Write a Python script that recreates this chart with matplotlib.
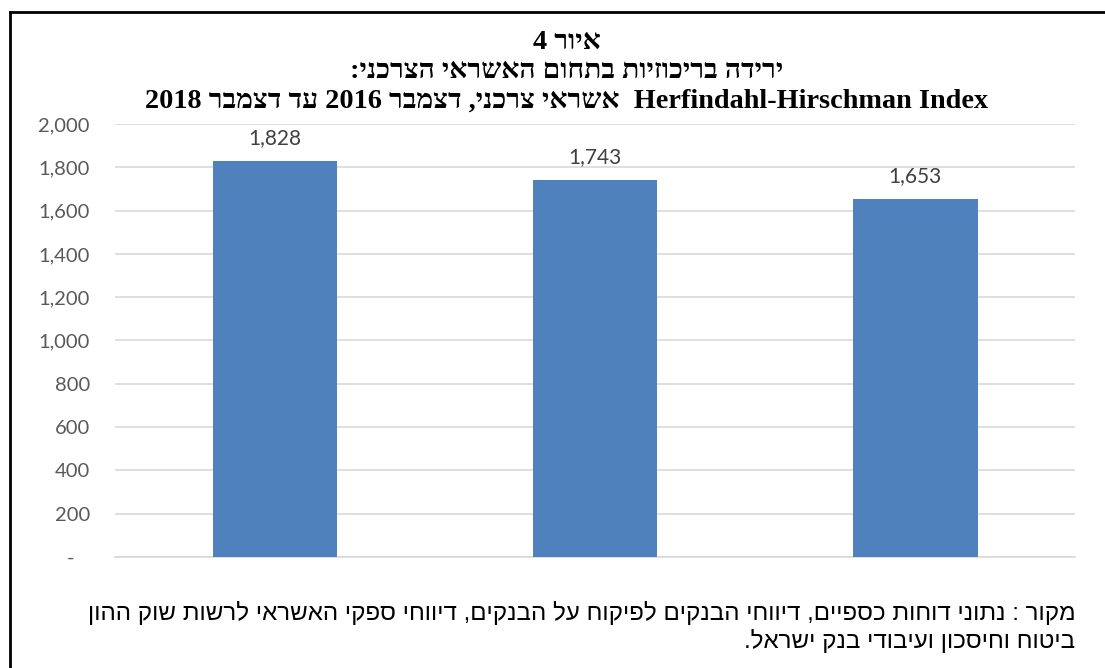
import re
import matplotlib
matplotlib.use('Agg')
import matplotlib.pyplot as plt
from matplotlib.lines import Line2D

# Data
categories = ['Dec 2016', 'Dec 2017', 'Dec 2018']
hhi_values = [1828, 1743, 1653]
y_ticks = [0, 200, 400, 600, 800, 1000, 1200, 1400, 1600, 1800, 2000]

title_lines = [
    'איור 4',
    'ירידה בריכוזיות בתחום האשראי הצרכני:',
    'Herfindahl-Hirschman Index  אשראי צרכני, דצמבר 2016 עד דצמבר 2018',
]
source_lines = [
    'מקור : נתוני דוחות כספיים, דיווחי הבנקים לפיקוח על הבנקים, דיווחי ספקי האשראי לרשות שוק ההון',
    'ביטוח וחיסכון ועיבודי בנק ישראל.',
]


def visual(text):
    # naive RTL reordering: keep latin/digit runs, reverse the rest
    parts = re.split(r'([A-Za-z0-9][A-Za-z0-9\- ]*[A-Za-z0-9]|[A-Za-z0-9])', text)
    out = []
    for p in reversed(parts):
        if re.match(r'[A-Za-z0-9]', p or ' '):
            out.append(p)
        else:
            out.append(p[::-1])
    return ''.join(out)


def main():
    fig = plt.figure(figsize=(11.05, 6.68), dpi=100)
    ax = fig.add_axes([0.104, 0.1662, 0.869, 0.6482])

    x = range(len(categories))
    bars = ax.bar(x, hhi_values, width=0.39, color='#4f81bd', zorder=3)

    for b, v in zip(bars, hhi_values):
        ax.text(b.get_x() + b.get_width() / 2, v + 60, f'{v:,}', ha='center', va='bottom',
                fontsize=15, color='#404040', family=['Lato', 'DejaVu Sans'])

    ax.set_xlim(-0.5, len(categories) - 0.5)
    ax.set_ylim(0, 2000)
    ax.set_yticks(y_ticks)
    ax.set_yticklabels(['-   '] + [f'{t:,}' for t in y_ticks[1:]],
                       fontsize=14.5, color='#595959', family=['Lato', 'DejaVu Sans'])
    ax.set_xticks([])
    ax.grid(axis='y', color='#d9d9d9', linewidth=1.2, zorder=0)
    for s in ['top', 'right', 'left']:
        ax.spines[s].set_visible(False)
    ax.spines['bottom'].set_color('#d9d9d9')
    ax.spines['bottom'].set_linewidth(1.2)
    ax.tick_params(axis='y', length=0, pad=18)

    title_y = [0.937, 0.893, 0.848]
    for t, yy in zip(title_lines, title_y):
        fig.text(0.513, yy, visual(t), ha='center', va='center', fontsize=20.3,
                 fontweight='bold', family=['Liberation Serif', 'DejaVu Sans'])

    fig.text(0.973, 0.082, visual(source_lines[0]), ha='right', va='center', fontsize=17.4,
             family=['Liberation Sans Narrow', 'Liberation Sans', 'DejaVu Sans'])
    fig.text(0.973, 0.040, visual(source_lines[1]), ha='right', va='center', fontsize=17.4,
             family=['Liberation Sans Narrow', 'Liberation Sans', 'DejaVu Sans'])

    # outer frame
    fig.add_artist(Line2D([0.009, 1.0], [0.982, 0.982], color='black', linewidth=2,
                          transform=fig.transFigure))
    fig.add_artist(Line2D([0.009, 0.009], [0.0, 0.982], color='black', linewidth=2,
                          transform=fig.transFigure))

    fig.savefig('out.png', dpi=100)


if __name__ == '__main__':
    main()
